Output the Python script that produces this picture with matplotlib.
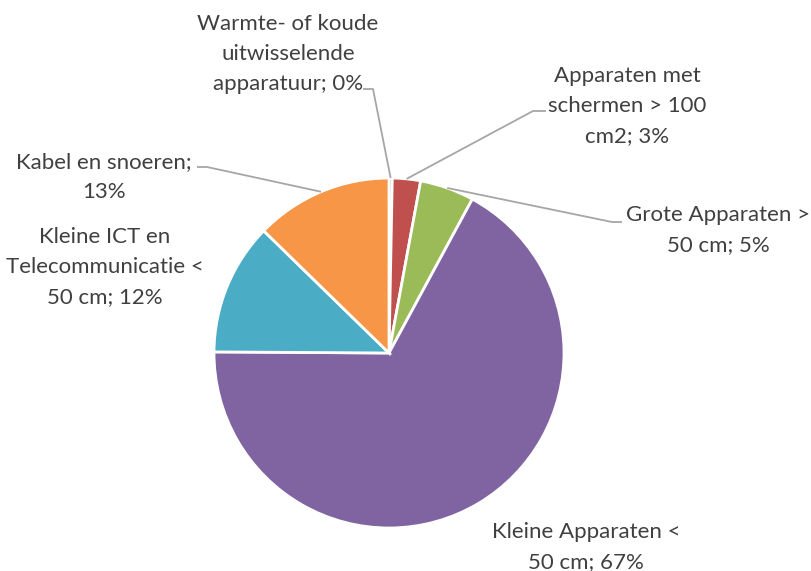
import matplotlib.pyplot as plt
import numpy as np

labels = ["Warmte- of koude\nuitwisselende\napparatuur", "Apparaten met\nschermen > 100\ncm2",
          "Grote Apparaten >\n50 cm", "Kleine Apparaten <\n50 cm", "Kleine ICT en\nTelecommunicatie <\n50 cm",
          "Kabel en snoeren;\n"]
values = [0.3, 2.6, 5.0, 67.2, 12.2, 12.7]
colors = ["#4F81BD", "#C0504D", "#9BBB59", "#8064A2", "#4BACC6", "#F79646"]

# label centres (pixels, y from top)
label_pos = [(288, 54), (627, 106), (718, 230), (586, 547), (105, 267), (104, 177)]
# leader line elbows: (label end x, elbow x, y), None = no leader
elbows = [(363, 373, 89), (546, 533, 111), (622, 612, 222), None, None, (197, 207, 167)]

W, H = 811, 571
cx, cy, r = 389, H - 353, 175

plt.rcParams['font.family'] = ['Lato', 'DejaVu Sans']
fig = plt.figure(figsize=(W / 100, H / 100), dpi=100)
ax = fig.add_axes([0, 0, 1, 1])

wedges, _ = ax.pie(values, colors=colors, startangle=90, counterclock=False,
                   center=(cx, cy), radius=r, frame=True,
                   wedgeprops=dict(edgecolor='white', linewidth=2.0))
ax.set_xlim(0, W)
ax.set_ylim(0, H)
ax.set_aspect('auto')
ax.axis('off')

for i, w in enumerate(wedges):
    name = labels[i]
    pct = f"{round(values[i]):.0f}%"
    txt = name + pct if name.endswith(";\n") else name + "; " + pct
    lx, ly = label_pos[i]
    ax.text(lx, H - ly, txt, ha='center', va='center', fontsize=16,
            color='#404040', linespacing=1.6)
    if elbows[i] is not None:
        mid = np.deg2rad((w.theta1 + w.theta2) / 2)
        px, py = cx + r * np.cos(mid), cy + r * np.sin(mid)
        ex, kx, ey = elbows[i]
        ax.plot([ex, kx, px], [H - ey, H - ey, py], color='#A6A6A6', lw=1.3,
                solid_capstyle='butt')

fig.savefig("out.png", dpi=100)
